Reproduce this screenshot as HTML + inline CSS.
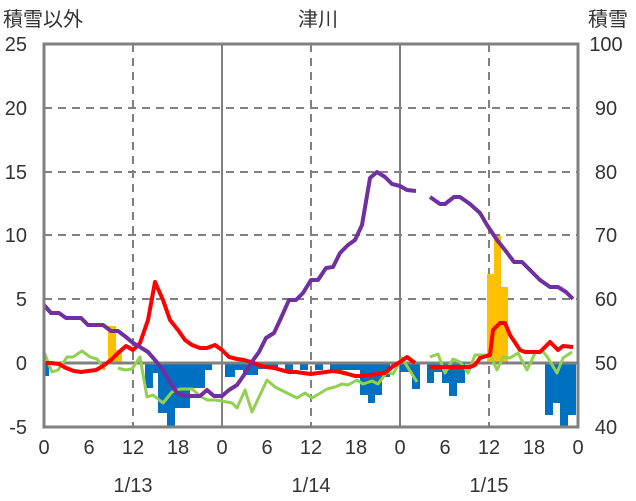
<!DOCTYPE html><html><head><meta charset="utf-8"><style>body{margin:0;background:#fff}svg{display:block}text{font-family:"Liberation Sans","Noto Sans CJK JP",sans-serif;fill:#333}</style></head><body>
<svg width="636" height="501" viewBox="0 0 636 501">
<g stroke="#808080" stroke-width="2" stroke-dasharray="8,6">
<line x1="44" y1="108" x2="578" y2="108"/><line x1="44" y1="172" x2="578" y2="172"/><line x1="44" y1="235" x2="578" y2="235"/><line x1="44" y1="299" x2="578" y2="299"/>
<line x1="133" y1="44" x2="133" y2="427"/><line x1="311" y1="44" x2="311" y2="427"/><line x1="489" y1="44" x2="489" y2="427"/>
</g>
<g stroke="#808080" stroke-width="2"><line x1="222" y1="44" x2="222" y2="427"/><line x1="400" y1="44" x2="400" y2="427"/></g>
<g fill="#0070c0">
<rect x="44" y="363" width="5" height="13"/>
<rect x="145" y="363" width="8" height="25"/><rect x="153" y="363" width="5" height="10"/>
<rect x="158" y="363" width="9" height="50"/><rect x="167" y="363" width="8" height="64"/><rect x="175" y="363" width="15" height="45"/>
<rect x="190" y="363" width="15" height="25"/><rect x="205" y="363" width="7" height="7"/><rect x="225" y="363" width="10" height="14"/>
<rect x="235" y="363" width="8" height="7"/><rect x="243" y="363" width="15" height="12"/><rect x="258" y="363" width="20" height="6"/>
<rect x="285" y="363" width="8" height="7"/><rect x="300" y="363" width="8" height="7"/><rect x="315" y="363" width="8" height="7"/>
<rect x="330" y="363" width="30" height="7"/><rect x="360" y="363" width="8" height="32"/><rect x="368" y="363" width="7" height="40"/>
<rect x="375" y="363" width="7" height="32"/><rect x="382" y="363" width="8" height="14"/><rect x="412" y="363" width="8" height="26"/>
<rect x="400" y="363" width="12" height="9"/>
<rect x="427" y="363" width="7" height="20"/><rect x="434" y="363" width="8" height="9"/><rect x="442" y="363" width="7" height="20"/>
<rect x="449" y="363" width="8" height="33"/><rect x="457" y="363" width="8" height="20"/>
<rect x="545" y="363" width="8" height="52"/><rect x="553" y="363" width="7" height="40"/><rect x="560" y="363" width="8" height="64"/><rect x="568" y="363" width="8" height="52"/>
</g>
<g fill="#ffc000"><rect x="108" y="326" width="8" height="37"/><rect x="116" y="350" width="6" height="13"/>
<rect x="487" y="274" width="7" height="89"/><rect x="494" y="236" width="7" height="127"/><rect x="501" y="287" width="7" height="76"/></g>
<line x1="44" y1="363" x2="578" y2="363" stroke="#808080" stroke-width="3"/>
<g fill="none" stroke-width="4" stroke-linejoin="round">
<polyline stroke="#92d050" stroke-width="3" points="44,352 52,372 58,370 67,357 73,357 82,351 90,357 97,359 105,370"/>
<polyline stroke="#92d050" stroke-width="3" points="118,368 125,370 132,369 140,357 147,397 153,395 163,403 172,392 180,389 192,389 200,396 207,400 215,400 222,401 232,403 237,408 245,390 252,412 267,380 275,387 297,398 305,393 312,398 327,389 335,387 342,384 348,385 357,380 363,384 372,381 378,384 387,372 393,374 402,358 417,382"/>
<polyline stroke="#92d050" stroke-width="3" points="430,357 438,354 445,373 453,359 460,362 468,373 475,355 490,355 497,370 503,357 510,358 518,353 527,370 535,353 542,350 548,358 557,373 563,358 572,352"/>
<polyline stroke="#ff0000" points="44,363 51,363 59,364 66,368 74,371 81,372 88,371 96,370 103,366 111,360 118,353 126,346 133,350 140,343 148,320 155,282 163,300 170,320 178,330 185,340 192,345 200,348 207,348 215,345 222,350 229,357 237,359 244,360 251,362 259,365 266,367 274,368 281,370 289,372 296,372 303,373 311,374 318,373 326,372 333,371 340,372 348,374 355,376 363,376 370,375 377,374 385,373 392,367 400,362 407,357 415,363"/>
<polyline stroke="#ff0000" points="430,367 470,367 475,365 480,358 490,355 493,330 500,323 505,323 510,335 520,350 525,352 540,352 550,342 558,350 563,346 573,347"/>
<polyline stroke="#7030a0" points="44,305 51,313 59,313 66,318 74,318 81,318 88,325 96,325 103,325 111,331 118,331 126,337 133,343 140,347 148,352 155,360 163,370 170,382 177,393 185,396 192,396 200,396 207,390 214,396 222,396 229,390 237,385 244,375 251,363 259,352 266,338 274,333 281,318 289,300 296,300 303,293 311,280 318,280 326,268 333,267 340,253 348,245 355,240 362,225 370,178 377,172 385,177 392,184 400,186 407,190 416,191"/>
<polyline stroke="#7030a0" points="430,197 440,204 445,204 454,197 460,197 470,204 480,213 487,225 497,240 505,250 514,262 522,262 530,270 540,280 550,287 558,287 566,292 573,299"/>
</g>
<rect x="44" y="44" width="534" height="383" fill="none" stroke="#808080" stroke-width="3"/>
<g font-size="20" text-anchor="end"><text x="27" y="51">25</text><text x="27" y="115">20</text><text x="27" y="179">15</text><text x="27" y="242">10</text><text x="27" y="306">5</text><text x="27" y="370">0</text><text x="27" y="434">-5</text></g>
<g font-size="20" text-anchor="middle"><text x="606" y="51">100</text><text x="606" y="115">90</text><text x="606" y="179">80</text><text x="606" y="242">70</text><text x="606" y="306">60</text><text x="606" y="370">50</text><text x="606" y="434">40</text></g>
<g font-size="20" text-anchor="middle"><text x="44" y="454">0</text><text x="89" y="454">6</text><text x="133" y="454">12</text><text x="178" y="454">18</text><text x="222" y="454">0</text><text x="267" y="454">6</text><text x="311" y="454">12</text><text x="356" y="454">18</text><text x="400" y="454">0</text><text x="445" y="454">6</text><text x="489" y="454">12</text><text x="534" y="454">18</text><text x="578" y="454">0</text>
<text x="133" y="492">1/13</text><text x="311" y="492">1/14</text><text x="489" y="492">1/15</text>
<text x="318" y="26">津川</text></g>
<text x="3" y="26" font-size="20">積雪以外</text><text x="588" y="26" font-size="20">積雪</text>
</svg></body></html>
